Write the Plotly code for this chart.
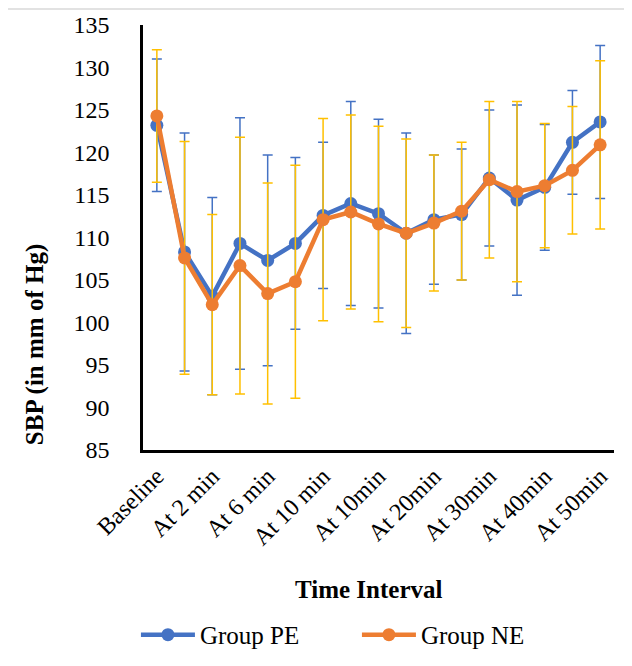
import plotly.graph_objects as go

# 17 measurement points; only every second one carries a label on the axis
point_index = list(range(17))
tick_labels = ["Baseline", "At 2 min", "At 6 min", "At 10 min", "At 10min",
               "At 20min", "At 30min", "At 40min", "At 50min"]
tick_positions = point_index[::2]

pe_mean = [123.2, 108.3, 103.1, 109.3, 107.3, 109.3, 112.6, 114.0, 112.8,
           110.5, 112.1, 112.7, 117.0, 114.4, 115.9, 121.2, 123.6]
pe_sd = [7.8, 14.0, 11.6, 14.8, 12.4, 10.1, 8.6, 12.0, 11.1,
         11.8, 7.6, 7.7, 8.0, 11.2, 7.4, 6.1, 9.0]
ne_mean = [124.3, 107.6, 102.1, 106.7, 103.4, 104.8, 112.1, 113.0, 111.6,
           110.5, 111.7, 113.1, 116.8, 115.4, 116.1, 117.9, 120.9]
ne_sd = [7.8, 13.7, 10.6, 15.1, 13.0, 13.7, 11.9, 11.4, 11.5,
         11.1, 8.0, 8.1, 9.2, 10.6, 7.3, 7.5, 9.9]

FONT = "Liberation Serif, Times New Roman, serif"

fig = go.Figure()
fig.add_trace(go.Scatter(
    x=point_index, y=pe_mean, name="Group PE", mode="lines+markers",
    line=dict(color="#4472C4", width=4.5),
    marker=dict(color="#4472C4", size=13),
    error_y=dict(type="data", array=pe_sd, visible=True,
                 color="#4472C4", thickness=1.5, width=5),
))
fig.add_trace(go.Scatter(
    x=point_index, y=ne_mean, name="Group NE", mode="lines+markers",
    line=dict(color="#ED7D31", width=4.5),
    marker=dict(color="#ED7D31", size=13),
    error_y=dict(type="data", array=ne_sd, visible=True,
                 color="#FFC000", thickness=1.5, width=5),
))

# page body has an 8px default margin, so the figure is 8px smaller
fig.update_layout(
    width=624, height=658,
    margin=dict(l=135, r=18, t=17, b=216, autoexpand=False),
    paper_bgcolor="white", plot_bgcolor="white",
    font=dict(family=FONT, size=24, color="black"),
    showlegend=True,
    legend=dict(orientation="h", x=-0.015, xanchor="left", y=-0.435,
                yanchor="middle", font=dict(size=25, family=FONT),
                itemwidth=54, entrywidth=152, traceorder="normal"),
    annotations=[
        dict(text="<b>SBP (in mm of Hg)</b>", textangle=-90,
             xref="paper", yref="paper", x=-0.229, y=0.247,
             xanchor="center", yanchor="middle", showarrow=False,
             font=dict(size=25, family=FONT)),
        dict(text="<b>Time Interval</b>",
             xref="paper", yref="paper", x=0.478, y=-0.329,
             xanchor="center", yanchor="middle", showarrow=False,
             font=dict(size=25, family=FONT)),
    ],
    shapes=[dict(type="rect", xref="paper", yref="paper",
                 x0=-0.2887, x1=1.3, y0=-0.8, y1=1.0376,
                 line=dict(color="#D9D9D9", width=1.5))],
)

fig.update_xaxes(range=[-0.5, 16.5], tickmode="array",
                 tickvals=tick_positions, ticktext=tick_labels,
                 tickangle=-45, showgrid=False, zeroline=False,
                 showline=True, linecolor="black", linewidth=2.5,
                 ticks="", automargin=False,
                 tickfont=dict(size=24, family=FONT))
fig.update_yaxes(range=[85, 135], dtick=5, tick0=85,
                 showgrid=False, zeroline=False,
                 showline=True, linecolor="black", linewidth=2.5,
                 ticks="", ticklabelstandoff=26, automargin=False,
                 tickfont=dict(size=24, family=FONT))

fig.write_html("out.html")
